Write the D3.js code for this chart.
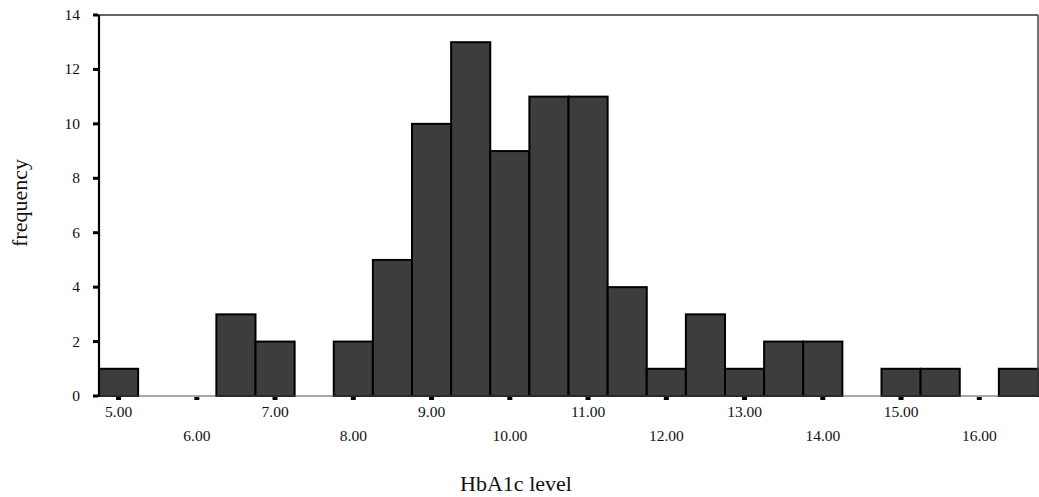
<!DOCTYPE html>
<html>
<head>
<meta charset="utf-8">
<script src="https://cdn.jsdelivr.net/npm/d3@7"></script>
<style>
  html, body { margin: 0; padding: 0; background: #fff; }
  svg { display: block; font-family: "Liberation Serif", "DejaVu Serif", serif; }
</style>
</head>
<body>
<svg id="chart" width="1039" height="497"></svg>
<script>
// Histogram of HbA1c levels, bins of width 0.5 centred on the listed values
const binCenters = [5.0, 5.5, 6.0, 6.5, 7.0, 7.5, 8.0, 8.5, 9.0, 9.5, 10.0, 10.5,
                    11.0, 11.5, 12.0, 12.5, 13.0, 13.5, 14.0, 14.5, 15.0, 15.5, 16.0, 16.5];
const frequencies = [1, 0, 0, 3, 2, 0, 2, 5, 10, 13, 9, 11,
                     11, 4, 1, 3, 1, 2, 2, 0, 1, 1, 0, 1];
const xTickValues = [5, 6, 7, 8, 9, 10, 11, 12, 13, 14, 15, 16];
const yTickValues = [0, 2, 4, 6, 8, 10, 12, 14];
const binWidth = 0.5;

const svg = d3.select("#chart");
const plotLeft = 99, plotRight = 1038, plotTop = 15, plotBottom = 396;

const x = d3.scaleLinear().domain([4.75, 16.75]).range([plotLeft, plotRight]);
const y = d3.scaleLinear().domain([0, 14]).range([plotBottom, plotTop]);

// bars
svg.append("g")
  .selectAll("rect")
  .data(binCenters.map((c, i) => ({ c, f: frequencies[i] })).filter(d => d.f > 0))
  .join("rect")
  .attr("x", d => x(d.c - binWidth / 2))
  .attr("y", d => y(d.f))
  .attr("width", d => x(d.c + binWidth / 2) - x(d.c - binWidth / 2))
  .attr("height", d => y(0) - y(d.f))
  .attr("fill", "#3d3d3d")
  .attr("stroke", "#000")
  .attr("stroke-width", 2);

// frame: top and right border
svg.append("line").attr("x1", plotLeft - 4).attr("x2", plotRight).attr("y1", plotTop).attr("y2", plotTop)
  .attr("stroke", "#333").attr("stroke-width", 1.5);
svg.append("line").attr("x1", plotRight).attr("x2", plotRight).attr("y1", plotTop).attr("y2", plotBottom)
  .attr("stroke", "#444").attr("stroke-width", 1.5);

// x axis
const xAxis = svg.append("g");
xAxis.append("line").attr("x1", plotLeft).attr("x2", plotRight).attr("y1", plotBottom).attr("y2", plotBottom)
  .attr("stroke", "#555").attr("stroke-width", 1.2);
xAxis.selectAll("rect.tick")
  .data(xTickValues)
  .join("rect")
  .attr("class", "tick")
  .attr("x", d => x(d) - 2.5)
  .attr("y", plotBottom + 1)
  .attr("width", 5)
  .attr("height", 3)
  .attr("fill", "#000");
xAxis.selectAll("text")
  .data(xTickValues)
  .join("text")
  .attr("x", d => x(d))
  .attr("y", (d, i) => i % 2 === 0 ? plotBottom + 21 : plotBottom + 45)
  .attr("text-anchor", "middle")
  .attr("font-size", 15.5)
  .attr("fill", "#111")
  .text(d => d.toFixed(2));

// y axis
const yAxis = svg.append("g");
yAxis.append("line").attr("x1", plotLeft).attr("x2", plotLeft).attr("y1", plotTop).attr("y2", plotBottom + 1)
  .attr("stroke", "#000").attr("stroke-width", 2.2);
yAxis.selectAll("rect.tick")
  .data(yTickValues)
  .join("rect")
  .attr("class", "tick")
  .attr("x", plotLeft - 6)
  .attr("y", d => y(d) - 1.5)
  .attr("width", 5)
  .attr("height", 3)
  .attr("fill", "#000");
yAxis.selectAll("text")
  .data(yTickValues)
  .join("text")
  .attr("x", 80)
  .attr("y", d => y(d) + 5)
  .attr("text-anchor", "end")
  .attr("font-size", 15.5)
  .attr("fill", "#111")
  .text(d => d);

// axis titles
svg.append("text")
  .attr("transform", "translate(27,203) rotate(-90)")
  .attr("text-anchor", "middle")
  .attr("font-size", 22)
  .attr("fill", "#111")
  .text("frequency");
svg.append("text")
  .attr("x", 516)
  .attr("y", 491)
  .attr("text-anchor", "middle")
  .attr("font-size", 22)
  .attr("fill", "#111")
  .text("HbA1c level");
</script>
</body>
</html>
